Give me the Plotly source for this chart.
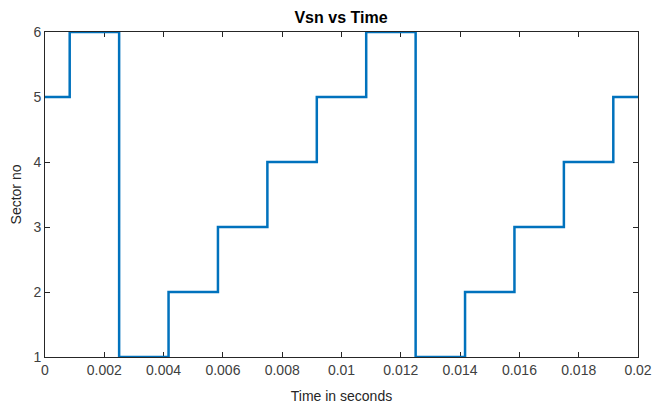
import plotly.graph_objects as go

# Step change times (s) and sector numbers
time_s = [0, 0.000833, 0.0025, 0.004167, 0.005833, 0.0075, 0.009167,
          0.010833, 0.0125, 0.014167, 0.015833, 0.0175, 0.019167, 0.02]
sector = [5, 6, 1, 2, 3, 4, 5, 6, 1, 2, 3, 4, 5, 5]

x_tickvals = [0, 0.002, 0.004, 0.006, 0.008, 0.01, 0.012, 0.014, 0.016, 0.018, 0.02]
x_ticktext = ["0", "0.002", "0.004", "0.006", "0.008", "0.01", "0.012", "0.014", "0.016", "0.018", "0.02"]
y_tickvals = [1, 2, 3, 4, 5, 6]

FONT = "Liberation Sans, Arial, sans-serif"

fig = go.Figure()
fig.add_trace(go.Scatter(
    x=time_s, y=sector, mode="lines",
    line=dict(color="#0072BD", width=2.5, shape="hv"),
    cliponaxis=False, showlegend=False,
))

axis_common = dict(
    showline=True, linecolor="#262626", linewidth=1, mirror="ticks",
    ticks="inside", ticklen=5, tickcolor="#262626", tickwidth=1,
    showgrid=False, zeroline=False, layer="below traces", automargin=False,
    ticklabeloverflow="allow",
    tickfont=dict(family=FONT, size=14, color="#404040"),
)

fig.update_layout(
    width=652, height=407,
    margin=dict(l=45, r=14, t=32, b=50),
    paper_bgcolor="white", plot_bgcolor="white",
    title=dict(text="<b>Vsn vs Time</b>", x=0.523, xanchor="center", y=0.958, yanchor="middle",
               font=dict(family=FONT, size=16, color="#000000")),
    xaxis=dict(range=[0, 0.02], tickvals=x_tickvals, ticktext=x_ticktext,
               title=dict(text="Time in seconds", standoff=14,
                          font=dict(family=FONT, size=14, color="#262626")),
               **axis_common),
    yaxis=dict(range=[1, 6], tickvals=y_tickvals,
               title=dict(text="Sector no", standoff=8,
                          font=dict(family=FONT, size=14, color="#262626")),
               **axis_common),
)

fig.write_html("out.html", config={"displayModeBar": False},
               post_script="document.body.style.margin='0px';")
